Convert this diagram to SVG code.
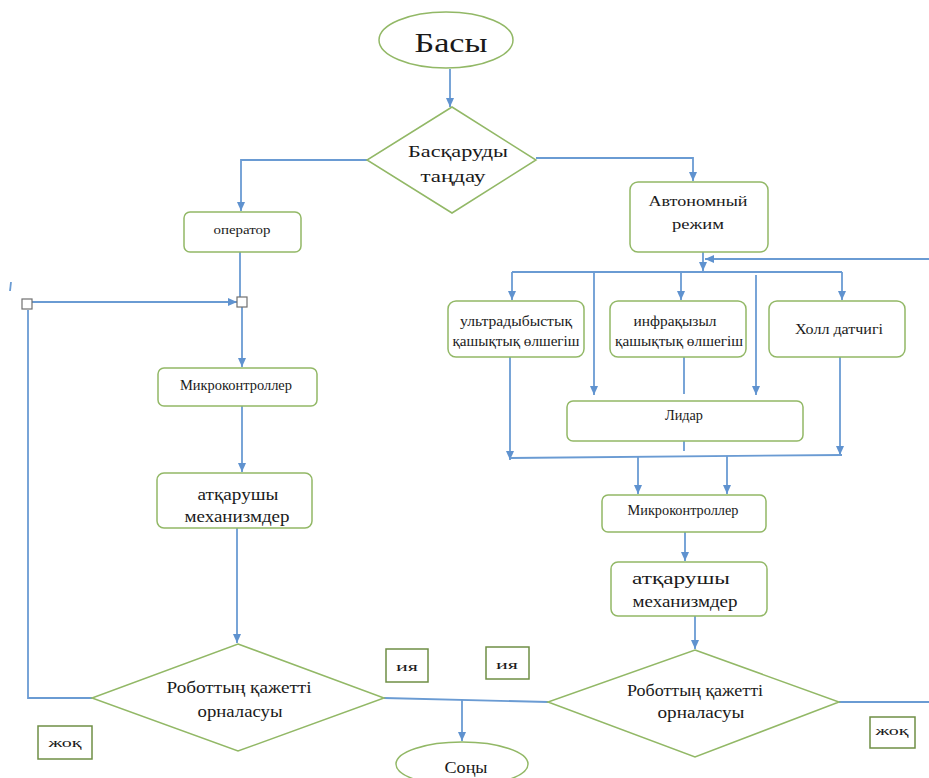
<svg xmlns="http://www.w3.org/2000/svg" width="929" height="778" viewBox="0 0 929 778">
  <defs>
    <marker id="arr" markerUnits="userSpaceOnUse" markerWidth="9" markerHeight="8" refX="9" refY="4" orient="auto">
      <path d="M0,0 L9,4 L0,8 z" fill="#5f92cf"/>
    </marker>
    <style>
      .node { fill: #ffffff; stroke: #92b866; stroke-width: 1.5; }
      .tag { fill: #ffffff; stroke: #6f8f45; stroke-width: 1.5; }
      .sq { fill: #ffffff; stroke: #707070; stroke-width: 1.2; }
      .cn { fill: none; stroke: #6a9bd3; stroke-width: 1.8; }
      .ar { marker-end: url(#arr); }
      text { font-family: "Liberation Serif", "DejaVu Serif", "Times New Roman", serif; fill: #1a1a1a; text-anchor: middle; }
      .fit { lengthAdjust: spacingAndGlyphs; }
    </style>
  </defs>
  <rect width="929" height="778" fill="#ffffff"/>

  <!-- connectors -->
  <g id="connectors">
    <line class="cn ar" x1="450" y1="69" x2="450" y2="107"/>
    <polyline class="cn ar" points="367,160 241,160 241,211"/>
    <polyline class="cn ar" points="536,158 693,158 693,181"/>
    <line class="cn" x1="240" y1="252" x2="240" y2="297"/>
    <line class="cn ar" x1="32" y1="302" x2="237" y2="302"/>
    <line class="cn ar" x1="242" y1="307" x2="242" y2="367"/>
    <line class="cn ar" x1="242" y1="406" x2="242" y2="472"/>
    <line class="cn ar" x1="237" y1="528" x2="237" y2="643"/>
    <polyline class="cn" points="92,698 28,698 28,310"/>
    <line class="cn" x1="11" y1="282" x2="10" y2="291"/>
    <line class="cn" x1="384" y1="698" x2="548" y2="702"/>
    <line class="cn ar" x1="462" y1="700" x2="462" y2="741"/>
    <line class="cn ar" x1="685" y1="532" x2="685" y2="561"/>
    <line class="cn ar" x1="695" y1="616" x2="695" y2="649"/>
    <line class="cn" x1="839" y1="702" x2="929" y2="702"/>
    <line class="cn ar" x1="929" y1="259" x2="705" y2="259"/>
    <line class="cn ar" x1="703" y1="252" x2="703" y2="271"/>
    <line class="cn" x1="512" y1="272" x2="842" y2="272"/>
    <line class="cn ar" x1="512" y1="272" x2="512" y2="300"/>
    <line class="cn ar" x1="594" y1="272" x2="594" y2="395"/>
    <line class="cn ar" x1="681" y1="272" x2="681" y2="300"/>
    <line class="cn ar" x1="756" y1="275" x2="756" y2="395"/>
    <line class="cn ar" x1="842" y1="272" x2="842" y2="300"/>
    <line class="cn ar" x1="510" y1="357" x2="510" y2="460"/>
    <line class="cn" x1="684" y1="357" x2="684" y2="394"/>
    <line class="cn ar" x1="840" y1="357" x2="840" y2="455"/>
    <line class="cn" x1="684" y1="441" x2="684" y2="451"/>
    <line class="cn" x1="510" y1="458" x2="842" y2="455"/>
    <line class="cn ar" x1="638" y1="457" x2="638" y2="494"/>
    <line class="cn ar" x1="727" y1="456" x2="727" y2="494"/>
    <rect class="sq" x="237" y="297" width="10" height="10"/>
    <rect class="sq" x="22" y="299" width="10" height="10"/>
  </g>

  <g id="start">
    <ellipse class="node" cx="446" cy="40" rx="67" ry="28"/>
    <text x="451" y="52" font-size="27" textLength="73" lengthAdjust="spacingAndGlyphs">Басы</text>
  </g>

  <g id="choose-control">
    <polygon class="node" points="452,107 536,160 452,213 367,160"/>
    <text x="458" y="157" font-size="17" textLength="100" lengthAdjust="spacingAndGlyphs">Басқаруды</text>
    <text x="453" y="182" font-size="17" textLength="65" lengthAdjust="spacingAndGlyphs">таңдау</text>
  </g>

  <g id="operator">
    <rect class="node" x="184" y="212" width="117" height="40" rx="6"/>
    <text x="242" y="234" font-size="13" textLength="57" lengthAdjust="spacingAndGlyphs">оператор</text>
  </g>

  <g id="autonomous">
    <rect class="node" x="630" y="182" width="138" height="70" rx="8"/>
    <text x="698" y="206" font-size="15" textLength="99" lengthAdjust="spacingAndGlyphs">Автономный</text>
    <text x="698" y="229" font-size="15" textLength="52" lengthAdjust="spacingAndGlyphs">режим</text>
  </g>

  <g id="mcu-left">
    <rect class="node" x="158" y="368" width="159" height="38" rx="6"/>
    <text x="236" y="390" font-size="14" textLength="112" lengthAdjust="spacingAndGlyphs">Микроконтроллер</text>
  </g>

  <g id="actuators-left">
    <rect class="node" x="157" y="473" width="155" height="55" rx="7"/>
    <text x="238" y="500" font-size="16" textLength="81" lengthAdjust="spacingAndGlyphs">атқарушы</text>
    <text x="237" y="522" font-size="16" textLength="105" lengthAdjust="spacingAndGlyphs">механизмдер</text>
  </g>

  <g id="check-left">
    <polygon class="node" points="238,644 384,698 238,751 92,698"/>
    <text x="239" y="693" font-size="16" textLength="145" lengthAdjust="spacingAndGlyphs">Роботтың қажетті</text>
    <text x="240" y="717" font-size="16" textLength="85" lengthAdjust="spacingAndGlyphs">орналасуы</text>
  </g>

  <g id="no-left">
    <rect class="tag" x="38" y="726" width="54" height="33"/>
    <text x="65" y="747" font-size="13" textLength="33" lengthAdjust="spacingAndGlyphs">жоқ</text>
  </g>

  <g id="yes-left">
    <rect class="tag" x="386" y="649" width="42" height="33"/>
    <text x="407" y="671" font-size="13" textLength="22" lengthAdjust="spacingAndGlyphs">ия</text>
  </g>

  <g id="yes-right">
    <rect class="tag" x="486" y="647" width="43" height="32"/>
    <text x="507" y="669" font-size="13" textLength="22" lengthAdjust="spacingAndGlyphs">ия</text>
  </g>

  <g id="end">
    <ellipse class="node" cx="462" cy="764" rx="66" ry="22"/>
    <text x="466" y="773" font-size="17" textLength="43" lengthAdjust="spacingAndGlyphs">Соңы</text>
  </g>

  <g id="ultrasonic">
    <rect class="node" x="448" y="301" width="136" height="56" rx="8"/>
    <text x="516" y="326" font-size="15" textLength="112" lengthAdjust="spacingAndGlyphs">ультрадыбыстық</text>
    <text x="516" y="346" font-size="15" textLength="127" lengthAdjust="spacingAndGlyphs">қашықтық өлшегіш</text>
  </g>

  <g id="infrared">
    <rect class="node" x="610" y="301" width="136" height="56" rx="8"/>
    <text x="675" y="326" font-size="15" textLength="83" lengthAdjust="spacingAndGlyphs">инфрақызыл</text>
    <text x="679" y="346" font-size="15" textLength="128" lengthAdjust="spacingAndGlyphs">қашықтық өлшегіш</text>
  </g>

  <g id="hall">
    <rect class="node" x="769" y="301" width="136" height="56" rx="8"/>
    <text x="839" y="334" font-size="15" textLength="88" lengthAdjust="spacingAndGlyphs">Холл датчигі</text>
  </g>

  <g id="lidar">
    <rect class="node" x="567" y="401" width="236" height="40" rx="6"/>
    <text x="684" y="420" font-size="14" textLength="38" lengthAdjust="spacingAndGlyphs">Лидар</text>
  </g>

  <g id="mcu-right">
    <rect class="node" x="602" y="495" width="164" height="37" rx="6"/>
    <text x="683" y="515" font-size="14" textLength="111" lengthAdjust="spacingAndGlyphs">Микроконтроллер</text>
  </g>

  <g id="actuators-right">
    <rect class="node" x="611" y="562" width="156" height="54" rx="7"/>
    <text x="681" y="584" font-size="16" textLength="98" lengthAdjust="spacingAndGlyphs">атқарушы</text>
    <text x="685" y="607" font-size="16" textLength="105" lengthAdjust="spacingAndGlyphs">механизмдер</text>
  </g>

  <g id="check-right">
    <polygon class="node" points="695,650 839,702 695,757 548,702"/>
    <text x="695" y="696" font-size="16" textLength="136" lengthAdjust="spacingAndGlyphs">Роботтың қажетті</text>
    <text x="701" y="718" font-size="16" textLength="87" lengthAdjust="spacingAndGlyphs">орналасуы</text>
  </g>

  <g id="no-right">
    <rect class="tag" x="870" y="717" width="45" height="31"/>
    <text x="892" y="735" font-size="13" textLength="33" lengthAdjust="spacingAndGlyphs">жоқ</text>
  </g>
</svg>
